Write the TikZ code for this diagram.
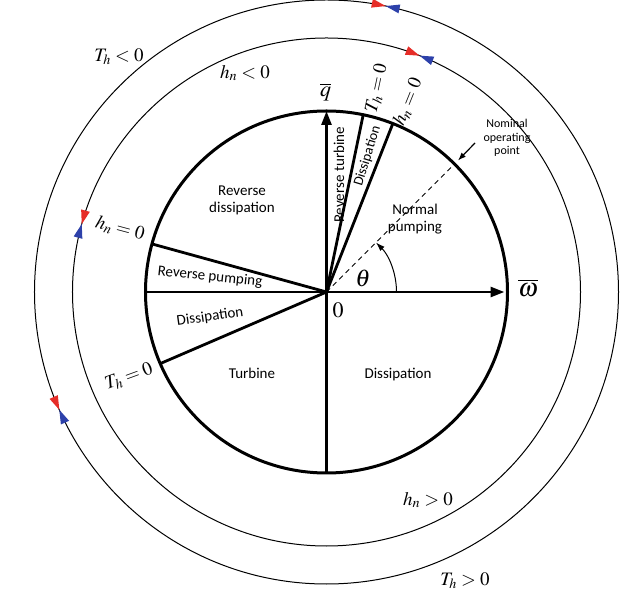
\documentclass[tikz,border=0pt]{standalone}
\usepackage{mathptmx}
\usepackage[no-math]{fontspec}
\setmainfont{Carlito}
\usetikzlibrary{arrows.meta}
\definecolor{arrred}{RGB}{230,45,40}
\definecolor{arrblue}{RGB}{45,65,170}

\begin{document}
\begin{tikzpicture}[x=1pt, y=1pt,
  sector/.style = {line width=2.8pt},
  ring/.style = {line width=1pt},
  axis/.style = {line width=2.8pt, -{Triangle[length=14pt,width=10pt]}},
  region/.style = {font=\fontsize{15}{17}\selectfont, align=center, inner sep=0pt},
  cond/.style = {font=\fontsize{19}{21}\selectfont, inner sep=0pt}]
        \useasboundingbox (-326.5,-309) rectangle (296.5,292);
        \coordinate (O) at (0,0);
        \coordinate (qtip) at (90:181);
        \coordinate (wtip) at (0:178);
        \coordinate (bot) at (270:181);
        \coordinate (left) at (180:181);
        \coordinate (Tup) at (78.3:181);
        \coordinate (hup) at (68.5:181);
        \coordinate (hleft) at (164.6:181);
        \coordinate (Tleft) at (203.3:181);
        \coordinate (nom) at (45:181);
        \coordinate (nomtip) at (45:186);
        \coordinate (nomtail) at (148.5,149);
        % boundaries of the regions
        \draw[ring] (O) circle (292);
        \draw[ring] (O) circle (254);
        \draw[line width=3pt] (O) circle (181);
        \draw[sector] (O) -- (left);
        \draw[sector] (O) -- (bot);
        \draw[sector] (O) -- (Tup);
        \draw[sector] (O) -- (hup);
        \draw[sector] (O) -- (hleft);
        \draw[sector] (O) -- (Tleft);
        \draw[axis] (O) -- (qtip);
        \draw[axis] (O) -- (wtip);
        \draw[line width=0.9pt, dash pattern=on 5pt off 4pt] (O) -- (nom);
        \draw[line width=1pt, -{Latex[length=9pt,width=6pt]}] (70,0) arc (0:45:70);
        \draw[line width=1.2pt, -{Latex[length=8pt,width=6pt]}] (nomtail) -- (nomtip);
        % red and blue markers on the rings
        \foreach \r/\a/\s/\t in {292/78.3/14/-14, 254/68.5/14/-14, 254/164.5/-14/14, 292/203.8/-14/14}{
          \begin{scope}[shift={(\a:\r)}, rotate=\a+90]
            \fill[arrred] (0,0) -- (\s,4.5) -- (\s,-4.5) -- cycle;
            \fill[arrblue] (0,0) -- (\t,4.5) -- (\t,-4.5) -- cycle;
          \end{scope}
        }
        \node[cond] (Tneg) at (-207.5,235) {$T_h<0$};
        \node[cond] (hneg) at (-81.5,219) {$h_n<0$};
        \node[cond, rotate=-15] (hzl) at (-206.5,63) {$h_n=0$};
        \node[cond, rotate=20] (Tzl) at (-197.5,-85) {$T_h=0$};
        \node[cond, rotate=78] (Tzu) at (50.5,204) {$T_h=0$};
        \node[cond, rotate=68] (hzu) at (81.5,190) {$h_n=0$};
        \node[cond] (hpos) at (101.5,-208) {$h_n>0$};
        \node[cond] (Tpos) at (138.5,-289) {$T_h>0$};
        \node[font=\fontsize{22}{24}\selectfont, inner sep=0pt] (qlab) at (-1,200) {$\overline{q}$};
        \node[font=\fontsize{26}{28}\selectfont, inner sep=0pt] (wlab) at (201.5,4) {$\overline{\omega}$};
        \node[font=\fontsize{22}{24}\selectfont, inner sep=0pt] (zero) at (11.5,-18) {$0$};
        \node[font=\fontsize{24}{26}\selectfont, inner sep=0pt] (thlab) at (36.5,14) {$\theta$};
        \node[region] (revdiss) at (-84.5,92) {Reverse\\dissipation};
        \node[region, rotate=90] (revturb) at (12.5,117) {Reverse turbine};
        \node[region, rotate=73, font=\fontsize{14}{16}\selectfont] (dissup) at (41,136) {Dissipation};
        \node[region] (normal) at (88.5,73) {Normal\\pumping};
        \node[region, rotate=-6] (revpump) at (-116.5,15) {Reverse pumping};
        \node[region, rotate=8] (dissleft) at (-116.5,-25) {Dissipation};
        \node[region] (turb) at (-74.5,-81) {Turbine};
        \node[region] (dissdown) at (71.5,-83) {Dissipation};
        \node[font=\fontsize{12}{13.5}\selectfont, align=center, inner sep=0pt] (nomlab) at (180.5,154) {Nominal\\operating\\point};
      \end{tikzpicture}
\end{document}
